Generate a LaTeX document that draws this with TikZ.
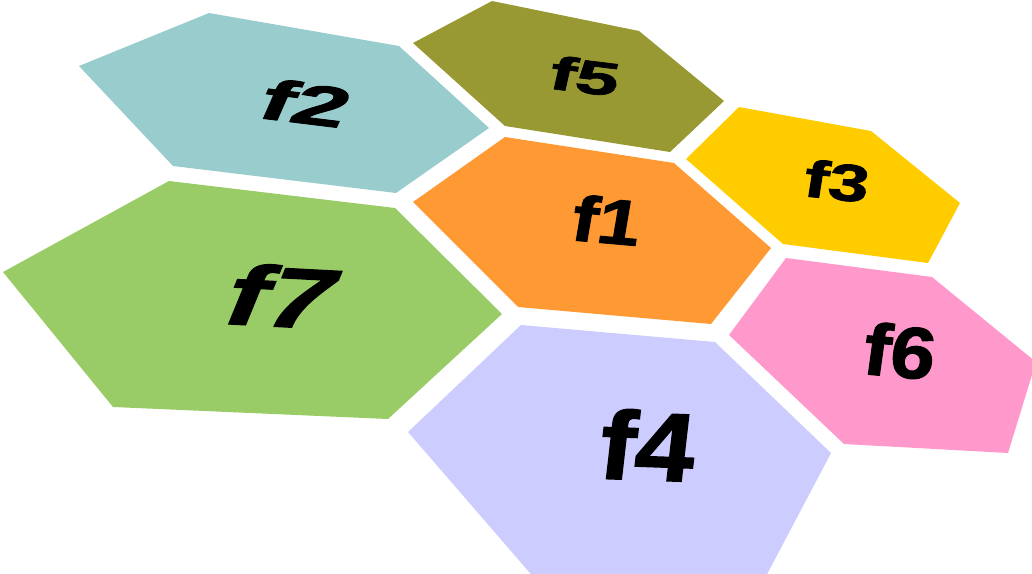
\documentclass[tikz,border=0pt]{standalone}
\usepackage{fontspec}
\newfontfamily\lblfont{Liberation Sans}[BoldFeatures={FakeBold=1.5}]
\usepackage{tikz}
\definecolor{cone}{HTML}{FF9933}
\definecolor{ctwo}{HTML}{99CCCC}
\definecolor{cthree}{HTML}{FFCC00}
\definecolor{cfour}{HTML}{CCCCFF}
\definecolor{cfive}{HTML}{999933}
\definecolor{csix}{HTML}{FF99CC}
\definecolor{cseven}{HTML}{99CC66}
\tikzset{
  face/.style ={fill=#1, draw=none},
  lbl/.style ={transform shape, inner sep=0pt, text=black,
               font=\lblfont\bfseries\fontsize{#1}{#1}\selectfont}
}

\begin{document}
\begin{tikzpicture}[x=1pt, y=-1pt]
  \clip (0,0) rectangle (1032,573);
  % faces
  \fill[face=ctwo]   (79,66) -- (209,13) -- (399,46) -- (489,128) -- (396,193) -- (173,166) -- cycle;
  \fill[face=cseven] (3,272) -- (169,181) -- (395,208) -- (502,314) -- (388,419) -- (113,407) -- cycle;
  \fill[face=cfive]  (413,43) -- (492,1) -- (639,31) -- (724,101) -- (670,152) -- (505,126) -- cycle;
  \fill[face=cone]   (413,202) -- (505,137) -- (674,163) -- (771,248) -- (711,324) -- (518,307) -- cycle;
  \fill[face=cthree] (686,159) -- (739,107) -- (871,131) -- (960,203) -- (928,263) -- (783,244) -- cycle;
  \fill[face=csix]   (729,335) -- (786,258) -- (932,277) -- (1036,362) -- (1008,453) -- (844,444) -- cycle;
  \fill[face=cfour]  (408,432) -- (521,325) -- (715,342) -- (831,453) -- (764,580) -- (536,580) -- cycle;
  % labels
  \node[lbl=57, rotate=-7, xslant=0.3, xscale=1.7] (l2) at (306,103) {f2};
  \node[lbl=85, rotate=-3, xslant=0.35, xscale=1.4] (l7) at (283,296) {f7};
  \node[lbl=47, rotate=-7, xslant=0.1, xscale=1.65] (l5) at (585,76) {f5};
  \node[lbl=64, rotate=-5, xslant=0.08, xscale=1.2] (l1) at (607,220) {f1};
  \node[lbl=52, rotate=-6, xslant=0.05, xscale=1.4] (l3) at (837,181) {f3};
  \node[lbl=73, rotate=-5, xslant=0.05, xscale=1.1] (l6) at (900,351) {f6};
  \node[lbl=97, rotate=-2, xslant=0.08, xscale=1.1] (l4) at (648,445) {f4};
\end{tikzpicture}
\end{document}
